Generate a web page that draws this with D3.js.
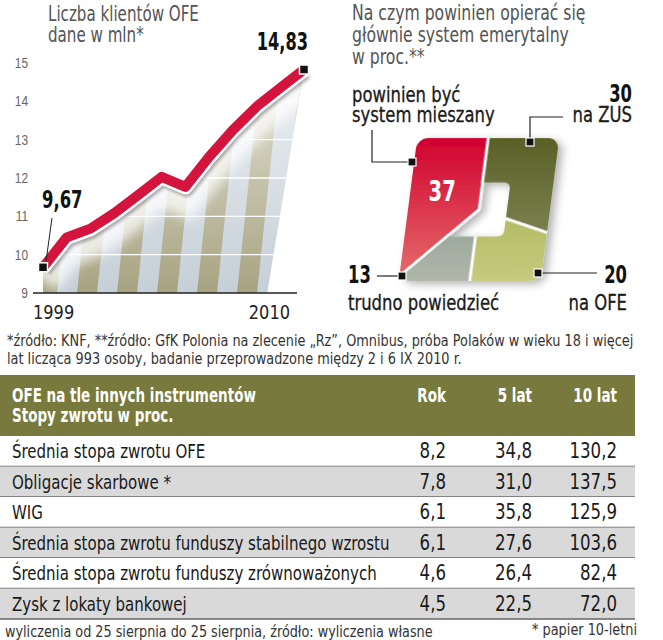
<!DOCTYPE html>
<html>
<head>
<meta charset="utf-8">
<script src="https://cdn.jsdelivr.net/npm/d3@7"></script>
<style>
  body { margin: 0; background: #fff; }
  svg { display: block; font-family: "Liberation Sans Narrow", "DejaVu Sans Condensed", sans-serif; }
</style>
</head>
<body>
<svg id="chart"></svg>
<script>
// --- data ---
const years = [1999, 2000, 2001, 2002, 2003, 2004, 2005, 2006, 2007, 2008, 2009, 2010]
const clients = [9.67, 10.45, 10.68, 11.08, 11.55, 12.03, 11.77, 12.55, 13.25, 13.86, 14.35, 14.83]
const yTicks = [9, 10, 11, 12, 13, 14, 15]

const pieValues = [30, 20, 13, 37]
const pieLabels = [['na ZUS'], ['na OFE'], ['trudno powiedzieć'], ['powinien być', 'system mieszany']]

const columns = ['Rok', '5 lat', '10 lat']
const rowNames = ['Średnia stopa zwrotu OFE', 'Obligacje skarbowe *', 'WIG',
                  'Średnia stopa zwrotu funduszy stabilnego wzrostu',
                  'Średnia stopa zwrotu funduszy zrównoważonych', 'Zysk z lokaty bankowej']
const rokValues = [8.2, 7.8, 6.1, 6.1, 4.6, 4.5]
const lat5Values = [34.8, 31.0, 35.8, 27.6, 26.4, 22.5]
const lat10Values = [130.2, 137.5, 125.9, 103.6, 82.4, 72.0]

const pl = d3.formatLocale({ decimal: ',', thousands: ' ', grouping: [3], currency: ['', ' zł'] })
const f1 = pl.format('.1f'),
      f2 = pl.format('.2f')

// squeeze text horizontally (the printed original uses a narrow face)
// k < 1 is a factor, k > 1 is a target width in px
const narrow = (sel, k) => sel.each(function () {
  const t = d3.select(this)
  const w = this.getComputedTextLength()
  const s = k > 1 ? k / w : k
  const tx = +t.attr('x') || 0, ty = +t.attr('y') || 0
  t.attr('x', null).attr('y', null)
    .attr('transform', 'translate(' + tx + ',' + ty + ') scale(' + s + ',1)')
})

const svg = d3.select('#chart').attr('width', 663).attr('height', 640)
const defs = svg.append('defs')

// ================= line chart =================
const x = d3.scaleLinear().domain(d3.extent(years)).range([43, 304])
const y = d3.scaleLinear().domain([9, 15]).range([293, 63])
const pts = years.map((yr, i) => [x(yr), y(clients[i])])

svg.append('g').attr('fill', '#555').attr('font-size', 21)
  .selectAll('text').data(['Liczba klientów OFE', 'dane w mln*']).enter()
  .append('text').attr('x', 48).attr('y', (d, i) => 21 + i * 20.5).text(d => d)
  .call(narrow, 0.8)

// striped area under the line
const areaPts = pts.concat([[x(2008.45), y(9)], [x(1999), y(9)]])
defs.append('clipPath').attr('id', 'areaClip')
  .append('path').attr('d', d3.line()(areaPts) + 'Z')

const pat = defs.append('pattern').attr('id', 'stripes')
  .attr('patternUnits', 'userSpaceOnUse').attr('width', 40).attr('height', 400)
  .attr('patternTransform', 'translate(77,293) skewX(-6)')
pat.append('rect').attr('width', 20).attr('height', 400).attr('fill', '#a7a381')
pat.append('rect').attr('x', 20).attr('width', 20).attr('height', 400).attr('fill', '#c5cfd7')

const fade = defs.append('linearGradient').attr('id', 'fade')
  .attr('gradientUnits', 'userSpaceOnUse').attr('x1', 0).attr('x2', 0).attr('y1', y(9)).attr('y2', y(15))
fade.append('stop').attr('offset', 0).attr('stop-color', '#fff').attr('stop-opacity', 1)
fade.append('stop').attr('offset', 1).attr('stop-color', '#fff').attr('stop-opacity', 0.3)
defs.append('mask').attr('id', 'fadeMask').attr('maskUnits', 'userSpaceOnUse')
  .attr('x', 0).attr('y', 0).attr('width', 663).attr('height', 640)
  .append('rect').attr('width', 663).attr('height', 640).attr('fill', 'url(#fade)')

defs.append('filter').attr('id', 'blur6').attr('x', '-20%').attr('y', '-50%').attr('width', '140%').attr('height', '200%')
  .append('feGaussianBlur').attr('stdDeviation', 6)
defs.append('filter').attr('id', 'blur2').attr('x', '-10%').attr('y', '-20%').attr('width', '120%').attr('height', '140%')
  .append('feGaussianBlur').attr('stdDeviation', 1.8)

const area = svg.append('g').attr('clip-path', 'url(#areaClip)')
area.append('rect').attr('x', 0).attr('y', 0).attr('width', 330).attr('height', 300)
  .attr('fill', 'url(#stripes)').attr('mask', 'url(#fadeMask)')
area.append('path').attr('d', d3.line()(pts))
  .attr('fill', 'none').attr('stroke', '#fff').attr('stroke-width', 34).attr('opacity', 0.75)
  .attr('transform', 'translate(0,13)').attr('filter', 'url(#blur6)')
area.selectAll('line.grid').data(yTicks.slice(1, -1)).enter()
  .append('line').attr('class', 'grid')
  .attr('x1', x(1999)).attr('x2', x(2010)).attr('y1', d => y(d)).attr('y2', d => y(d))
  .attr('stroke', '#fff').attr('stroke-width', 1.3)

// y axis labels
const yAxis = d3.axisLeft(y).tickValues(yTicks).tickFormat(d3.format('d')).tickSize(0).tickPadding(3)
svg.append('g').attr('transform', 'translate(31,0)').call(yAxis)
  .call(g => g.select('.domain').remove())
  .selectAll('text').attr('font-family', null).attr('font-size', 14).attr('fill', '#666')
  .call(narrow, 0.85)

// baseline
svg.append('line').attr('x1', x(1999) - 10).attr('x2', x(2010) - 7)
  .attr('y1', y(9)).attr('y2', y(9)).attr('stroke', '#222').attr('stroke-width', 1.5)

svg.append('text').attr('x', x(1999) - 10).attr('y', 319).attr('font-size', 20).attr('fill', '#222')
  .text(years[0]).call(narrow, 0.9)
svg.append('text').attr('x', x(2010) - 14).attr('y', 319).attr('font-size', 20).attr('fill', '#222')
  .attr('text-anchor', 'end').text(years[years.length - 1]).call(narrow, 0.9)

// the line: shadow, white halo, red stroke
const line = d3.line()
svg.append('path').attr('d', line(pts)).attr('fill', 'none')
  .attr('stroke', '#000').attr('stroke-opacity', 0.3).attr('stroke-width', 15)
  .attr('stroke-linejoin', 'round').attr('transform', 'translate(1.5,2.5)').attr('filter', 'url(#blur2)')
svg.append('path').attr('d', line(pts)).attr('fill', 'none')
  .attr('stroke', '#fff').attr('stroke-width', 15).attr('stroke-linejoin', 'round')
svg.append('path').attr('d', line(pts)).attr('fill', 'none')
  .attr('stroke', '#d4143d').attr('stroke-width', 10).attr('stroke-linejoin', 'round')

const ends = [0, years.length - 1]
svg.selectAll('rect.end').data(ends).enter()
  .append('rect').attr('class', 'end')
  .attr('x', i => pts[i][0] - 4.5).attr('y', i => pts[i][1] - 4.5)
  .attr('width', 9).attr('height', 9).attr('fill', '#111').attr('stroke', '#fff').attr('stroke-width', 1.5)

svg.append('line').attr('x1', x(1999) + 9).attr('y1', 218).attr('x2', pts[0][0] + 3).attr('y2', pts[0][1] - 6)
  .attr('stroke', '#222').attr('stroke-width', 1)
svg.append('text').attr('x', x(1999) - 1).attr('y', 208).attr('font-size', 24).attr('font-weight', 'bold')
  .attr('fill', '#111').text(f2(clients[0])).call(narrow, 0.76)
svg.append('text').attr('x', pts[11][0] + 4).attr('y', 50).attr('font-size', 24).attr('font-weight', 'bold')
  .attr('fill', '#111').attr('text-anchor', 'end').text(f2(clients[11])).call(narrow, 0.75)

// ================= square "pie" =================
svg.append('g').attr('fill', '#555').attr('font-size', 21)
  .selectAll('text').data(['Na czym powinien opierać się', 'głównie system emerytalny', 'w proc.**']).enter()
  .append('text').attr('x', 352).attr('y', (d, i) => 20 + i * 22).text(d => d)
  .call(narrow, 0.83)

const pieC = [479, 209.5], halfW = 71, halfH = 71.5, skew = -7.4
const holeW = 28, holeH = 27
const tanSkew = Math.tan(skew * Math.PI / 180)

const pie = d3.pie().sort(null).value(d => d)
const arcs = pie(pieValues)
const wedge = d3.arc().innerRadius(0).outerRadius(170)

const sliceColors = [['#596026', '#8e9063'], ['#9dab45', '#c6ca7d'], ['#738e80', '#b0b6aa'], ['#d1002f', '#e56f6c']]
sliceColors.forEach((c, i) => {
  const gr = defs.append('linearGradient').attr('id', 'sl' + i)
    .attr('gradientUnits', 'userSpaceOnUse').attr('x1', 0).attr('x2', 0).attr('y1', -halfH).attr('y2', halfH)
  gr.append('stop').attr('offset', 0).attr('stop-color', c[0])
  gr.append('stop').attr('offset', 1).attr('stop-color', c[1])
})

defs.append('clipPath').attr('id', 'squareClip')
  .append('rect').attr('x', -halfW).attr('y', -halfH).attr('width', halfW * 2).attr('height', halfH * 2).attr('rx', 11)
const hole = defs.append('mask').attr('id', 'hole').attr('maskUnits', 'userSpaceOnUse')
  .attr('x', -200).attr('y', -200).attr('width', 400).attr('height', 400)
hole.append('rect').attr('x', -200).attr('y', -200).attr('width', 400).attr('height', 400).attr('fill', '#fff')
hole.append('rect').attr('x', -holeW).attr('y', -holeH).attr('width', holeW * 2).attr('height', holeH * 2)
  .attr('rx', 6).attr('fill', '#000')

const shadow = defs.append('filter').attr('id', 'pieShadow').attr('x', '-20%').attr('y', '-20%').attr('width', '150%').attr('height', '150%')
shadow.append('feDropShadow').attr('dx', 5).attr('dy', 3).attr('stdDeviation', 4)
  .attr('flood-color', '#000').attr('flood-opacity', 0.3)

const pieG = svg.append('g').attr('transform', `translate(${pieC[0]},${pieC[1]}) skewX(${skew})`)
  .attr('filter', 'url(#pieShadow)')
  .append('g').attr('clip-path', 'url(#squareClip)')

pieG.selectAll('path.slice').data(arcs).enter()
  .append('path').attr('class', 'slice')
  .attr('d', wedge).attr('fill', (d, i) => 'url(#sl' + i + ')')
  .attr('mask', (d, i) => i === 3 ? null : 'url(#hole)')
pieG.selectAll('path.gap').data(arcs).enter()
  .append('path').attr('class', 'gap')
  .attr('d', wedge).attr('fill', 'none').attr('stroke', '#fff').attr('stroke-width', 2.5)
  .attr('mask', (d, i) => i === 3 ? null : 'url(#hole)')

// value inside the red slice
const inner = d3.arc().innerRadius(0).outerRadius(92)
const c37 = inner.centroid(arcs[3])
svg.append('text').attr('x', pieC[0] + c37[0] + tanSkew * c37[1] + 3)
  .attr('y', pieC[1] + c37[1] + 10).attr('text-anchor', 'middle')
  .attr('font-size', 29).attr('font-weight', 'bold').attr('fill', '#fff').text(pieValues[3])
  .call(narrow, 0.75)

// annotations: leader lines, markers, labels
const pieNotes = [
  { value: [632, 102], name: [632, 122], anchor: 'end', leader: [[563, 117], [530, 117], [530, 142]] },
  { value: [627, 283], name: [627, 310], anchor: 'end', leader: [[597, 273], [538, 273]] },
  { value: [348, 283], name: [348, 310], anchor: 'start', leader: [[377, 276], [402, 276]] },
  { value: null, name: [352, 102], anchor: 'start', leader: [[372, 130], [372, 162], [412, 162]] }
]
const notes = svg.append('g')
pieNotes.forEach((n, i) => {
  notes.append('path').attr('d', d3.line()(n.leader)).attr('fill', 'none')
    .attr('stroke', '#222').attr('stroke-width', 1.2)
  const m = n.leader[n.leader.length - 1]
  notes.append('rect').attr('x', m[0] - 4).attr('y', m[1] - 4).attr('width', 8).attr('height', 8)
    .attr('fill', '#111').attr('stroke', '#fff').attr('stroke-width', 1.2)
  if (n.value) {
    notes.append('text').attr('x', n.value[0]).attr('y', n.value[1]).attr('text-anchor', n.anchor)
      .attr('font-size', 24).attr('font-weight', 'bold').attr('fill', '#111').text(pieValues[i])
      .call(narrow, 0.76)
  }
  pieLabels[i].forEach((t, j) => {
    notes.append('text').attr('x', n.name[0]).attr('y', n.name[1] + j * 20).attr('text-anchor', n.anchor)
      .attr('font-size', 21).attr('fill', '#1a1a1a').attr('stroke', '#1a1a1a').attr('stroke-width', 0.3).text(t)
      .call(narrow, 0.87)
  })
})

// ================= footnotes =================
svg.append('text').attr('x', 7).attr('y', 346).attr('font-size', 15).attr('fill', '#333')
  .text('*źródło: KNF, **źródło: GfK Polonia na zlecenie „Rz”, Omnibus, próba Polaków w wieku 18 i więcej')
  .call(narrow, 627)
svg.append('text').attr('x', 7).attr('y', 364).attr('font-size', 15).attr('fill', '#333')
  .text('lat licząca 993 osoby, badanie przeprowadzone między 2 i 6 IX 2010 r.')
  .call(narrow, 455)

// ================= table =================
const tableW = 635, colRight = [446, 532, 617]
const rowY = d3.scaleBand().domain(rowNames).range([436, 619])

svg.append('rect').attr('x', 0).attr('y', 375).attr('width', tableW).attr('height', 61).attr('fill', '#777a3c')
svg.append('g').attr('fill', '#fff').attr('font-size', 19).attr('font-weight', 'bold')
  .selectAll('text').data(['OFE na tle innych instrumentów', 'Stopy zwrotu w proc.']).enter()
  .append('text').attr('x', 12).attr('y', (d, i) => 402 + i * 20).text(d => d)
  .call(narrow, 0.79)
svg.append('g').attr('fill', '#fff').attr('font-size', 19).attr('font-weight', 'bold').attr('text-anchor', 'end')
  .selectAll('text').data(columns).enter()
  .append('text').attr('x', (d, i) => colRight[i]).attr('y', 402).text(d => d)
  .call(narrow, 0.79)

const rows = svg.append('g').selectAll('g.row').data(rowNames).enter()
  .append('g').attr('class', 'row').attr('transform', d => `translate(0,${rowY(d)})`)
rows.append('rect').attr('width', tableW).attr('height', rowY.bandwidth())
  .attr('fill', (d, i) => i % 2 ? '#d9d9d9' : '#fff')
rows.append('line').attr('x1', 0).attr('x2', tableW)
  .attr('y1', rowY.bandwidth()).attr('y2', rowY.bandwidth())
  .attr('stroke', '#666').attr('stroke-width', 1.3)
rows.append('text').attr('x', 12).attr('y', 22).attr('font-size', 20).attr('fill', '#1a1a1a').text(d => d)
  .call(narrow, 0.835)
;[rokValues, lat5Values, lat10Values].forEach((vals, j) => {
  rows.append('text').attr('x', colRight[j]).attr('y', 22).attr('text-anchor', 'end')
    .attr('font-size', 21).attr('fill', '#1a1a1a').text((d, i) => f1(vals[i]))
    .call(narrow, 0.88)
})

svg.append('text').attr('x', 5).attr('y', 637).attr('font-size', 15).attr('fill', '#333')
  .text('wyliczenia od 25 sierpnia do 25 sierpnia, źródło: wyliczenia własne')
  .call(narrow, 428)
svg.append('text').attr('x', 637).attr('y', 635).attr('font-size', 15).attr('fill', '#333')
  .attr('text-anchor', 'end').text('* papier 10-letni')
  .call(narrow, 105)
</script>
</body>
</html>
